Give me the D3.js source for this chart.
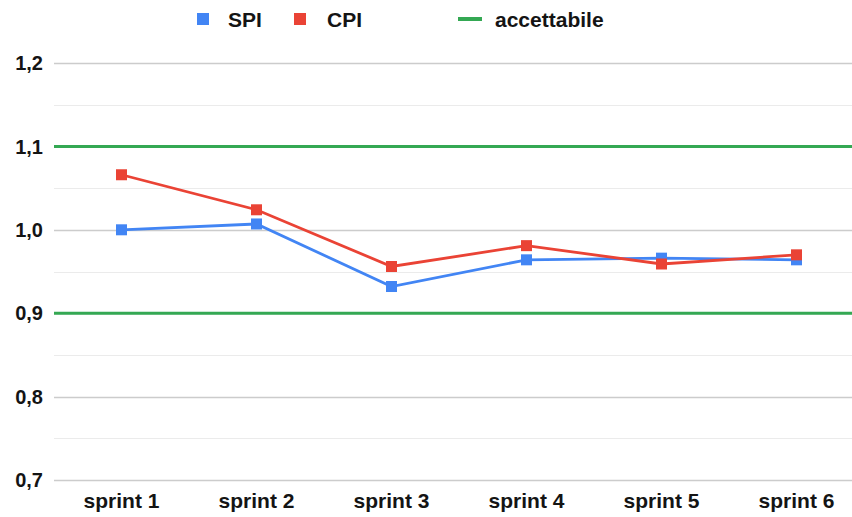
<!DOCTYPE html>
<html>
<head>
<meta charset="utf-8">
<script src="https://cdn.jsdelivr.net/npm/d3@7"></script>
<style>
  body { margin: 0; background: #fff; }
  svg text { font-family: "Liberation Sans", Arial, sans-serif; font-weight: bold; fill: #141414; }
</style>
</head>
<body>
<div id="chart"></div>
<script>
// data
const sprints = ["sprint 1", "sprint 2", "sprint 3", "sprint 4", "sprint 5", "sprint 6"];
const spi = [1.000, 1.007, 0.932, 0.964, 0.966, 0.964];
const cpi = [1.066, 1.024, 0.956, 0.981, 0.959, 0.970];
const acceptable = [0.9, 1.1];
const yTicks = [0.7, 0.8, 0.9, 1.0, 1.1, 1.2];

const width = 852, height = 517;
const plotLeft = 54, plotTop = 63, plotBottom = 480;

const svg = d3.select("#chart").append("svg")
    .attr("width", width)
    .attr("height", height);

const x = d3.scalePoint()
    .domain(sprints)
    .range([plotLeft, plotLeft + 6 * 135])
    .padding(0.5);

const y = d3.scaleLinear()
    .domain([0.7, 1.2])
    .range([plotBottom, plotTop]);

const fmt = d => d3.format(".1f")(d).replace(".", ",");

// minor grid (every 0.05)
const minor = d3.range(0.75, 1.2, 0.1);
svg.append("g").selectAll("line")
    .data(minor)
    .join("line")
    .attr("x1", plotLeft).attr("x2", width)
    .attr("y1", d => Math.round(y(d)) + 0.5).attr("y2", d => Math.round(y(d)) + 0.5)
    .attr("stroke", "#ebebeb")
    .attr("stroke-width", 1);

// major grid
svg.append("g").selectAll("line")
    .data(yTicks)
    .join("line")
    .attr("x1", plotLeft).attr("x2", width)
    .attr("y1", d => Math.round(y(d)) + 0.5).attr("y2", d => Math.round(y(d)) + 0.5)
    .attr("stroke", "#cccccc")
    .attr("stroke-width", 1.5);

// y labels
svg.append("g").selectAll("text")
    .data(yTicks)
    .join("text")
    .attr("x", 43)
    .attr("y", d => y(d))
    .attr("dy", "0.36em")
    .attr("text-anchor", "end")
    .style("font-size", "20px")
    .text(fmt);

// x labels
svg.append("g").selectAll("text")
    .data(sprints)
    .join("text")
    .attr("x", d => x(d))
    .attr("y", 508)
    .attr("text-anchor", "middle")
    .style("font-size", "21px")
    .text(d => d);

// acceptable band lines
svg.append("g").selectAll("line")
    .data(acceptable)
    .join("line")
    .attr("x1", plotLeft).attr("x2", width)
    .attr("y1", d => y(d)).attr("y2", d => y(d))
    .attr("stroke", "#34a853")
    .attr("stroke-width", 3);

const series = [
    { name: "SPI", values: spi, color: "#4285f4" },
    { name: "CPI", values: cpi, color: "#ea4335" }
];

const line = d3.line()
    .x((d, i) => x(sprints[i]))
    .y(d => y(d));

series.forEach(s => {
    svg.append("path")
        .datum(s.values)
        .attr("fill", "none")
        .attr("stroke", s.color)
        .attr("stroke-width", 2.8)
        .attr("d", line);

    svg.append("g").selectAll("rect")
        .data(s.values)
        .join("rect")
        .attr("x", (d, i) => x(sprints[i]) - 5.5)
        .attr("y", d => y(d) - 5.5)
        .attr("width", 11)
        .attr("height", 11)
        .attr("fill", s.color);
});

// legend
const legend = svg.append("g");
legend.append("rect").attr("x", 197).attr("y", 13).attr("width", 12).attr("height", 12).attr("fill", "#4285f4");
legend.append("text").attr("x", 228).attr("y", 19).attr("dy", "0.36em").style("font-size", "21px").text("SPI");
legend.append("rect").attr("x", 294).attr("y", 13).attr("width", 12).attr("height", 12).attr("fill", "#ea4335");
legend.append("text").attr("x", 327).attr("y", 19).attr("dy", "0.36em").style("font-size", "21px").text("CPI");
legend.append("line").attr("x1", 458).attr("x2", 482).attr("y1", 19).attr("y2", 19)
    .attr("stroke", "#34a853").attr("stroke-width", 4);
legend.append("text").attr("x", 495).attr("y", 19).attr("dy", "0.36em").style("font-size", "21px").text("accettabile");
</script>
</body>
</html>
